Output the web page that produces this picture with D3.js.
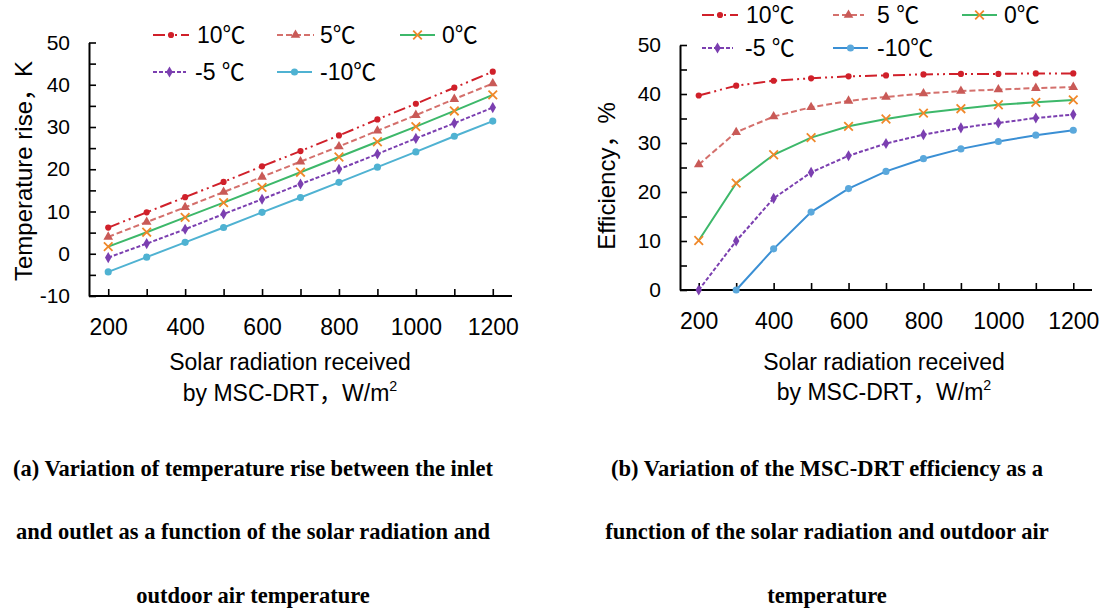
<!DOCTYPE html>
<html><head><meta charset="utf-8">
<script src="https://cdn.jsdelivr.net/npm/d3@7"></script>
<style>
body{margin:0;background:#fff;}
svg{display:block;}
</style></head>
<body>
<svg id="c" width="1106" height="609"></svg>
<script>
// ---------- data ----------
const radiation = [200,300,400,500,600,700,800,900,1000,1100,1200];
const radiationLabels = [200,400,600,800,1000,1200];
const seriesNamesA = ["10℃","5℃","0℃","-5 ℃","-10℃"];
const seriesNamesB = ["10℃","5 ℃","0℃","-5 ℃","-10℃"];

const tempRise10  = [6.2, 9.8, 13.4, 17.0, 20.7, 24.3, 28.0, 31.8, 35.5, 39.3, 43.1];
const tempRise5   = [4.0, 7.5, 11.0, 14.6, 18.2, 21.8, 25.4, 29.1, 32.8, 36.6, 40.3];
const tempRise0   = [1.7, 5.1, 8.6, 12.1, 15.7, 19.3, 22.9, 26.5, 30.1, 33.8, 37.6];
const tempRiseM5  = [-0.9, 2.4, 5.8, 9.4, 12.9, 16.5, 20.0, 23.6, 27.3, 30.9, 34.6];
const tempRiseM10 = [-4.3, -0.8, 2.7, 6.2, 9.8, 13.3, 16.9, 20.5, 24.1, 27.8, 31.4];

const eff10  = [39.7, 41.7, 42.7, 43.2, 43.6, 43.8, 44.0, 44.1, 44.1, 44.2, 44.2];
const eff5   = [25.6, 32.2, 35.4, 37.3, 38.6, 39.4, 40.1, 40.6, 40.9, 41.2, 41.4];
const eff0   = [10.1, 21.8, 27.6, 31.1, 33.4, 34.9, 36.1, 37.0, 37.8, 38.3, 38.8];
const effM5  = [0.0, 10.0, 18.7, 24.0, 27.4, 29.9, 31.7, 33.1, 34.1, 35.1, 35.8];
const effM10 = [null, 0.0, 8.4, 15.9, 20.7, 24.2, 26.8, 28.8, 30.3, 31.6, 32.6];

const yTicksA = [-10,0,10,20,30,40,50];
const yTicksB = [0,10,20,30,40,50];

const captionA = ["(a) Variation of temperature rise between the inlet",
                  "and outlet as a function of the solar radiation and",
                  "outdoor air temperature"];
const captionB = ["(b) Variation of the MSC-DRT efficiency as a",
                  "function of the solar radiation and outdoor air",
                  "temperature"];

// ---------- styles ----------
const FONT = "Arial, 'Liberation Sans', 'Noto Sans CJK SC', sans-serif";
const SERIF = "'Liberation Serif', 'Times New Roman', serif";
const styleA = [
  {line:"#D0202A", marker:"#D0202A", dash:"12,4,2,4,2,4", sym:"circle"},
  {line:"#D4706C", marker:"#C95A57", dash:"6,3", sym:"triangle"},
  {line:"#3DB86A", marker:"#F0882A", dash:null, sym:"times"},
  {line:"#7B3FB0", marker:"#7B3FB0", dash:"4,2", sym:"diamond"},
  {line:"#4FB2D2", marker:"#4FB2D2", dash:null, sym:"circleL"}
];
const styleB = [
  {line:"#D0202A", marker:"#D0202A", dash:"12,4,2,4,2,4", sym:"circle"},
  {line:"#D4706C", marker:"#C95A57", dash:"6,3", sym:"triangle"},
  {line:"#3DB86A", marker:"#F0882A", dash:null, sym:"times"},
  {line:"#7B3FB0", marker:"#7B3FB0", dash:"4,2", sym:"diamond"},
  {line:"#3A8FD4", marker:"#5AA8DC", dash:null, sym:"circleL"}
];

const svg = d3.select("#c");

function symbolPath(sym){
  switch(sym){
    case "circle": return d3.symbol(d3.symbolCircle, 30)();
    case "circleL": return d3.symbol(d3.symbolCircle, 40)();
    case "triangle": return d3.symbol(d3.symbolTriangle, 40)();
    case "diamond": return d3.symbol(d3.symbolDiamond, 36)();
    case "times": return d3.symbol(d3.symbolTimes, 50)();
  }
}
function drawMarker(g, sym, color, x, y){
  const p = g.append("path").attr("d", symbolPath(sym))
    .attr("transform", `translate(${x},${y})`);
  if(sym==="times") p.attr("fill","none").attr("stroke",color).attr("stroke-width",1.8);
  else p.attr("fill",color).attr("stroke","none");
}

function drawChart(cfg){
  const g = svg.append("g");
  const x = d3.scalePoint().domain(radiation).range([cfg.x0, cfg.x1]).padding(0.5);
  const y = d3.scaleLinear().domain(cfg.yDomain).range([cfg.yBottom, cfg.yTop]);

  // axes
  const yMinor = d3.range(cfg.yDomain[0], cfg.yDomain[1]+0.1, 5);
  const ax = g.append("g").attr("transform",`translate(0,${cfg.yBottom})`)
    .call(d3.axisBottom(x).tickSizeInner(-7).tickSizeOuter(0).tickPadding(23)
      .tickFormat(d => radiationLabels.includes(d) ? d : ""));
  const ay = g.append("g").attr("transform",`translate(${cfg.x0},0)`)
    .call(d3.axisLeft(y).tickValues(yMinor).tickSizeInner(-7).tickSizeOuter(0).tickPadding(19)
      .tickFormat(d => cfg.yTicks.includes(d) ? d : ""));
  [ax, ay].forEach(a => {
    a.select(".domain").attr("stroke","#000").attr("stroke-width",2);
    a.selectAll(".tick line").attr("stroke","#000").attr("stroke-width",1.6);
    a.selectAll("text").attr("font-family",FONT).attr("fill","#000");
  });
  ax.selectAll("text").attr("font-size",cfg.xFont);
  ay.selectAll("text").attr("font-size",cfg.yFont);
  ax.select(".domain").attr("d",`M${cfg.x0},0H${cfg.x1}`);

  // series
  cfg.series.forEach((vals, i) => {
    const st = cfg.styles[i];
    const pts = radiation.map((r,k)=>({r, v: vals[k]})).filter(d => d.v !== null);
    const line = d3.line().x(d => x(d.r)).y(d => y(d.v));
    g.append("path").attr("d", line(pts)).attr("fill","none")
      .attr("stroke", st.line).attr("stroke-width",2)
      .attr("stroke-dasharray", st.dash);
    pts.forEach(d => drawMarker(g, st.sym, st.marker, x(d.r), y(d.v)));
  });

  // legend
  cfg.legend.forEach((L, i) => {
    const st = cfg.styles[i];
    const lg = g.append("g");
    lg.append("line").attr("x1",L.sx).attr("x2",L.sx+L.w).attr("y1",L.y).attr("y2",L.y)
      .attr("stroke",st.line).attr("stroke-width",2).attr("stroke-dasharray",st.dash);
    drawMarker(lg, st.sym, st.marker, L.sx+L.w/2, L.y);
    lg.append("text").attr("x",L.tx).attr("y",L.y).attr("dy","0.36em")
      .attr("font-family",FONT).attr("font-size",cfg.legFont).text(cfg.names[i]);
  });

  // y title
  g.append("text").attr("transform",`translate(${cfg.ytX},${cfg.ytY}) rotate(-90)`)
    .attr("text-anchor","middle").attr("font-family",FONT).attr("font-size",cfg.ytFont)
    .attr("dy","0.35em").text(cfg.yTitle);

  // x title
  const xc = cfg.xtX;
  g.append("text").attr("x",xc).attr("y",cfg.xtY1).attr("text-anchor","middle")
    .attr("font-family",FONT).attr("font-size",cfg.xtFont).attr("dy","0.35em")
    .text("Solar radiation received");
  const t2 = g.append("text").attr("x",xc).attr("y",cfg.xtY2).attr("text-anchor","middle")
    .attr("font-family",FONT).attr("font-size",cfg.xtFont).attr("dy","0.35em");
  t2.append("tspan").text("by MSC-DRT，W/m");
  t2.append("tspan").attr("font-size",cfg.xtFont*0.62).attr("dy","-0.7em").text("2");

  // caption
  cfg.caption.forEach((c, k) => {
    g.append("text").attr("x",cfg.capX).attr("y",cfg.capY[k]).attr("text-anchor","middle")
      .attr("font-family",SERIF).attr("font-weight","bold")
      .attr("font-size",22.5).attr("dy","0.35em").text(c);
  });
}

drawChart({
  x0:89, x1:512, yTop:42.5, yBottom:296, yDomain:[-10,50], yTicks:yTicksA,
  series:[tempRise10,tempRise5,tempRise0,tempRiseM5,tempRiseM10], styles:styleA, names:seriesNamesA,
  xFont:23, yFont:21, legFont:23,
  legend:[
    {sx:153,w:36,tx:197,y:35},{sx:277,w:37,tx:320,y:35},{sx:400,w:35,tx:442,y:35},
    {sx:153,w:33,tx:195,y:72},{sx:277,w:35,tx:320,y:72}],
  yTitle:"Temperature rise，K", ytX:24, ytY:171, ytFont:24,
  xtX:290, xtY1:362, xtY2:393, xtFont:23,
  caption:captionA, capX:253, capY:[468,531.5,595]
});

drawChart({
  x0:680, x1:1092, yTop:45, yBottom:290, yDomain:[0,50], yTicks:yTicksB,
  series:[eff10,eff5,eff0,effM5,effM10], styles:styleB, names:seriesNamesB,
  xFont:23, yFont:21, legFont:23,
  legend:[
    {sx:702,w:36,tx:746,y:15},{sx:833,w:31,tx:877,y:15},{sx:962,w:35,tx:1004,y:15},
    {sx:702,w:31,tx:745,y:48},{sx:833,w:35,tx:877,y:48}],
  yTitle:"Efficiency，%", ytX:607, ytY:176, ytFont:24,
  xtX:884, xtY1:362, xtY2:392, xtFont:23,
  caption:captionB, capX:827, capY:[468,531.5,595]
});
</script>
</body></html>
